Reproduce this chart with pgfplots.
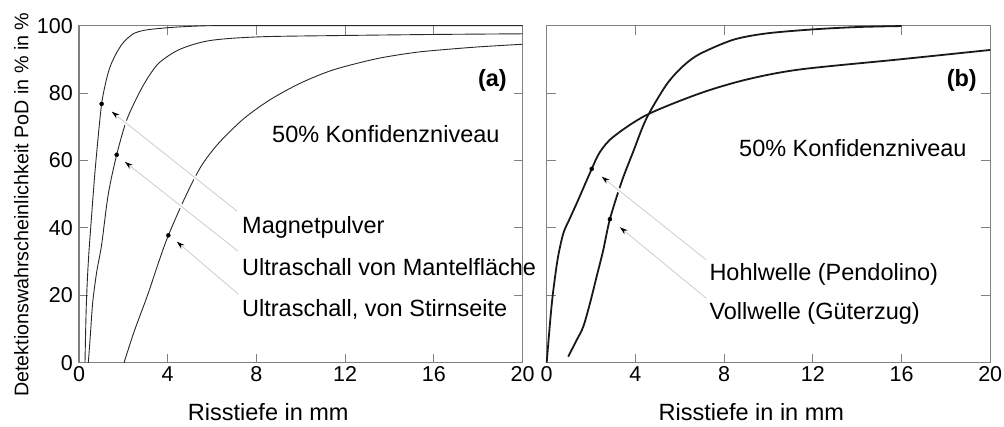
\documentclass[border=0pt]{standalone}
\usepackage{pgfplots}
\pgfplotsset{compat=1.18}
\usepackage{fontspec}
\setmainfont{Liberation Sans}
\usetikzlibrary{arrows.meta}
\definecolor{axgray}{RGB}{128,128,128}
\definecolor{argray}{RGB}{205,205,205}
\definecolor{curvel}{RGB}{40,40,40}
\definecolor{curver}{RGB}{25,25,25}
\newcommand{\tickfont}{\fontsize{21.5}{21.5}\selectfont}
\newcommand{\annfont}{\fontsize{23.5}{23.5}\selectfont}
\pgfplotsset{
  panel/.style={
    scale only axis, width=443.5pt, height=337pt,
    xmin=0, xmax=20, ymin=0, ymax=100,
    xtick={0,4,...,20}, ytick={0,20,...,100},
    tick align=inside, xtick pos=both, ytick pos=both,
    xticklabel pos=lower, yticklabel pos=left,
    major tick length=9pt,
    axis line style={axgray, line width=1.2pt},
    every tick/.style={axgray, line width=1pt},
    /pgf/number format/assume math mode=true,
    ticklabel style={font=\tickfont},
    xticklabel style={inner sep=0pt, anchor=north, yshift=-4pt},
    yticklabel style={inner sep=0pt, anchor=east, xshift=-6pt},
    clip=false,
  },
  arr/.style={argray, line width=0.8pt, -{Stealth[black, length=8pt, width=5pt]}},
  halo/.style={white, line width=4pt},
  dot/.style={only marks, mark=*, mark size=2pt, black},
  lcurve/.style={curvel, line width=0.9pt, smooth, tension=0.5},
  rcurve/.style={curver, line width=1.8pt, smooth, tension=0.5},
}
\begin{document}
\begin{tikzpicture}
\useasboundingbox (0,0) rectangle (1004pt,426pt);
% ---------- panel (a)
\begin{axis}[panel, at={(79pt,63.3pt)}, anchor=south west]
\addplot[lcurve] coordinates {(0.27,0) (0.32,15) (0.38,25) (0.45,33) (0.55,42) (0.7,55) (0.85,66) (1.02,76.8) (1.2,83) (1.4,87.8) (1.7,92) (2.0,95) (2.45,97.6) (3,98.7) (4,99.4) (5,99.8) (6,100) (8,100) (12,100) (20,100)};
\addplot[lcurve] coordinates {(0.42,0) (0.5,7) (0.62,18) (0.8,27) (1.02,35) (1.32,50) (1.7,61.7) (2.15,72) (2.75,80.5) (3.2,85.5) (3.65,89.2) (4.55,93.0) (5.91,95.6) (8.16,96.7) (12,97.1) (16,97.4) (20,97.6)};
\addplot[lcurve] coordinates {(2.03,0) (2.5,9.5) (3.09,20) (3.6,30) (4.03,37.8) (4.78,49) (5.5,58.2) (6.28,65) (7.41,72.3) (8.61,78.0) (9.97,82.9) (11.47,86.9) (13.42,90.2) (15.08,92.0) (16.28,92.8) (18,93.7) (20,94.5)};
% halos
\addplot[halo] coordinates {(7.125,45.0) (1.475,74.5)};
\addplot[halo] coordinates {(7.17,33.1) (2.07,59.6)};
\addplot[halo] coordinates {(7.19,20.3) (4.41,35.9)};
% arrows
\addplot[arr] coordinates {(7.125,45.0) (1.475,74.5)};
\addplot[arr] coordinates {(7.17,33.1) (2.07,59.6)};
\addplot[arr] coordinates {(7.19,20.3) (4.41,35.9)};
\addplot[dot] coordinates {(1.02,76.8) (1.70,61.7) (4.03,37.8)};
\end{axis}
% ---------- panel (b)
\begin{axis}[panel, at={(546.7pt,63.3pt)}, anchor=south west, yticklabels={}]
\addplot[rcurve] coordinates {(0,0) (0.1,8) (0.2,15.5) (0.3,21.6) (0.5,31) (0.75,38.4) (1.05,42.9) (1.42,48.3) (2.03,57.5) (2.4,62.5) (3,67) (4.5,73.5) (6.9,79.9) (9,84) (11.4,87) (15.9,90) (20,92.8)};
\addplot[rcurve] coordinates {(0.97,1.8) (1.35,6.7) (1.65,10.7) (1.95,17.6) (2.25,25.5) (2.55,33.4) (2.85,42.6) (3.38,53.7) (3.9,62.6) (4.5,72.5) (5.4,82.5) (6.15,88.0) (6.9,91.6) (8.4,95.8) (9.9,97.7) (12,98.9) (14,99.6) (16,99.9)};
\addplot[halo] coordinates {(7.2,30.5) (2.48,55.2)};
\addplot[halo] coordinates {(7.2,19.1) (3.3,40.2)};
\addplot[arr] coordinates {(7.2,30.5) (2.48,55.2)};
\addplot[arr] coordinates {(7.2,19.1) (3.3,40.2)};
\addplot[dot] coordinates {(2.03,57.5) (2.85,42.6)};
\end{axis}
% ---------- texts
\begin{scope}[every node/.style={inner sep=0pt, font=\annfont}]
\node[anchor=base] at (268.3pt,5.3pt) {Risstiefe in mm};
\node[anchor=base] at (751.3pt,5.3pt) {Risstiefe in in mm};
\node[anchor=base east, font=\annfont\bfseries] at (507pt,339pt) {(a)};
\node[anchor=base east, font=\annfont\bfseries] at (977pt,339pt) {(b)};
\node[anchor=base west] at (272pt,283pt) {50\% Konfidenzniveau};
\node[anchor=base west] at (739pt,269pt) {50\% Konfidenzniveau};
\node[anchor=base west] at (242pt,192pt) {Magnetpulver};
\node[anchor=base west] at (242pt,150.5pt) {Ultraschall von Mantelfläche};
\node[anchor=base west] at (242pt,110pt) {Ultraschall, von Stirnseite};
\node[anchor=base west] at (709.3pt,145pt) {Hohlwelle (Pendolino)};
\node[anchor=base west] at (709.3pt,106.7pt) {Vollwelle (Güterzug)};
\node[rotate=90, anchor=base west, font=\fontsize{19.7}{19.7}\selectfont] at (28.3pt,29pt) {Detektionswahrscheinlichkeit PoD in \% in \%};
\end{scope}
\end{tikzpicture}
\end{document}
